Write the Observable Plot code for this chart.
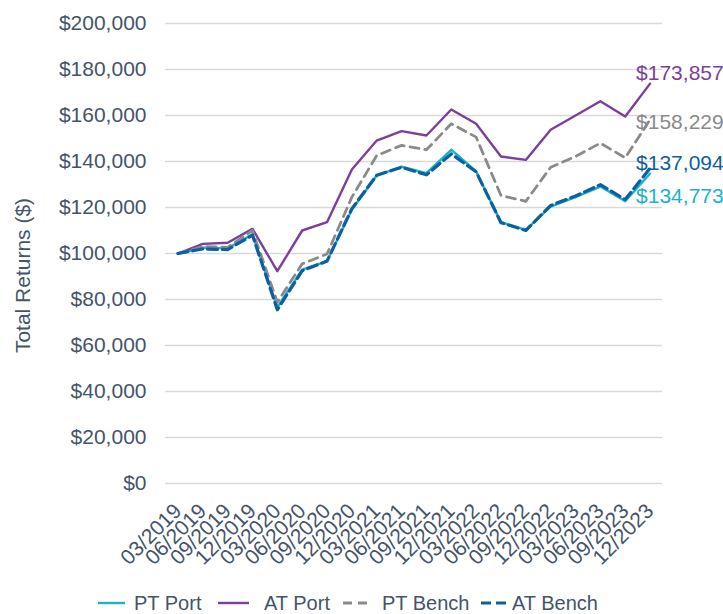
<!DOCTYPE html>
<html><head><meta charset="utf-8">
<script src="https://cdn.jsdelivr.net/npm/d3@7"></script>
<script src="https://cdn.jsdelivr.net/npm/@observablehq/plot@0.6"></script>
<style>
body{margin:0;background:#fff;font-family:"Liberation Sans",Arial,sans-serif;}
#wrap{position:relative;width:723px;height:614px;overflow:hidden;}
#chart{position:absolute;left:0;top:0;}
.leg{position:absolute;top:590px;height:26px;display:flex;align-items:center;font-size:20px;color:#44546a;white-space:nowrap;}
.leg svg{display:block;}
</style></head><body><div id="wrap"><div id="chart"></div></div>
<script>
const periods = ["03/2019","06/2019","09/2019","12/2019","03/2020","06/2020","09/2020","12/2020","03/2021","06/2021","09/2021","12/2021","03/2022","06/2022","09/2022","12/2022","03/2023","06/2023","09/2023","12/2023"];
const ptPort  = [100000,102500,102300,108300,76700,93000,96700,119000,133900,137800,134900,145100,135700,113600,110300,120400,124500,129100,122700,134773];
const atPort  = [100000,104200,104700,110700,92300,110000,113600,136500,149100,153200,151300,162600,156400,142200,140700,153800,160000,166200,159600,173857];
const ptBench = [100000,103000,102700,110000,78800,95500,99800,124500,142600,147000,145100,156400,150600,125200,122700,137500,142200,148000,141600,158229];
const atBench = [100000,102000,101700,108000,75500,92500,96700,119500,134000,137500,134200,143300,135500,113400,110000,120900,125000,129900,123500,137094];
const seriesNames = ["PT Port","AT Port","PT Bench","AT Bench"];
const yTicks = [0,20000,40000,60000,80000,100000,120000,140000,160000,180000,200000];
const yLabel = "Total Returns ($)";

const seriesValues = [ptPort, atPort, ptBench, atBench];
const colors = {"PT Port":"#19b3cb","AT Port":"#7b3f9e","PT Bench":"#8a8a8a","AT Bench":"#0c5fa2"};
const styles = {
  "PT Port": {strokeWidth:2.4},
  "AT Port": {strokeWidth:2.4},
  "PT Bench": {strokeWidth:2.8, strokeDasharray:"9,6"},
  "AT Bench": {strokeWidth:3.2, strokeDasharray:"10,5"}
};
const labelDy = {"PT Port":23,"AT Port":-10,"PT Bench":3,"AT Bench":-5};

const rows = [];
seriesNames.forEach((s, k) => periods.forEach((p, i) => rows.push({series:s, period:p, value:seriesValues[k][i]})));
const fmt = d3.format("$,");

const marks = [
  Plot.gridY(yTicks, {stroke:"#d9d9d9", strokeOpacity:1, strokeWidth:1.5}),
  Plot.axisY({ticks:yTicks, tickFormat:fmt, tickSize:0, tickPadding:19, label:null, fill:"#44546a", fontSize:21}),
  Plot.axisX({tickRotate:-45, tickSize:0, tickPadding:24, label:null, fill:"#44546a", fontSize:21}),
  Plot.text([yLabel], {frameAnchor:"left", textAnchor:"middle", rotate:-90, dx:-142, dy:22, fill:"#44546a", fontSize:21})
];
seriesNames.forEach(s => {
  const d = rows.filter(r => r.series === s);
  marks.push(Plot.line(d, {x:"period", y:"value", stroke:colors[s], ...styles[s]}));
});
seriesNames.forEach(s => {
  const d = rows.filter(r => r.series === s && r.period === periods[periods.length-1]);
  marks.push(Plot.text(d, {x:"period", y:"value", text:d => fmt(d.value), textAnchor:"start", dx:-14, dy:labelDy[s], fill:colors[s], fontSize:21}));
});

const chart = Plot.plot({
  width:723, height:585,
  marginLeft:165, marginRight:61, marginTop:23, marginBottom:102,
  style:{fontSize:"21px", fontFamily:"'Liberation Sans', Arial, sans-serif", color:"#44546a", background:"#fff", overflow:"visible"},
  x:{type:"point", domain:periods, padding:0.5, round:false},
  y:{domain:[0,200000]},
  marks
});
document.getElementById("chart").appendChild(chart);

// legend
const legPos = [
  {s:"PT Port", left:98, w:27, gap:9},
  {s:"AT Port", left:218, w:31, gap:15},
  {s:"PT Bench", left:343, w:25, gap:14},
  {s:"AT Bench", left:481, w:26, gap:5}
];
const wrap = document.getElementById("wrap");
legPos.forEach(p => {
  const div = document.createElement("div");
  div.className = "leg";
  div.style.left = p.left + "px";
  const st = styles[p.s];
  const dash = st.strokeDasharray ? `stroke-dasharray="${st.strokeDasharray}"` : "";
  div.innerHTML = `<svg width="${p.w}" height="10"><line x1="0" x2="${p.w}" y1="5" y2="5" stroke="${colors[p.s]}" stroke-width="${st.strokeWidth}" ${dash}/></svg><span style="margin-left:${p.gap}px">${p.s}</span>`;
  wrap.appendChild(div);
});
</script>
</body></html>
